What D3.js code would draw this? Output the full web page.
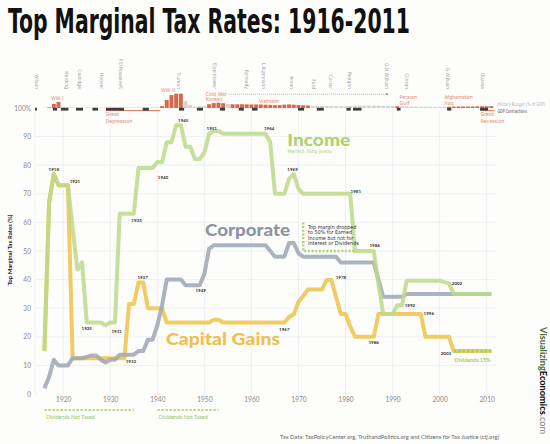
<!DOCTYPE html>
<html><head><meta charset="utf-8">
<script src="https://cdn.jsdelivr.net/npm/d3@7"></script>
<style>
body{margin:0;background:#fdfdfc;}
svg{display:block;}
.narrow{font-family:'Liberation Sans Narrow','DejaVu Sans Condensed',sans-serif;}
.lato{font-family:Lato,'Open Sans',sans-serif;}
</style></head><body>
<svg id="c" width="550" height="444"></svg>
<script>
// ---------------- DATA ----------------
const years = d3.range(1916, 2012);
const incomeRates = [15,67,77,73,73,73,58,43.5,46,25,25,25,25,24,25,25,63,63,63,63,79,79,79,79,81.1,81,88,88,94,94,86.45,86.45,82.13,82.13,84.36,91,92,92,
  91,91,91,91,91,91,91,91,91,91,88,70,70,70,75.25,77,71.75,
  70,70,70,70,70,70,70,70,70,70,70,50,50,50,50,50,38.5,28,28,28,31,31,
  39.6,39.6,39.6,39.6,39.6,39.6,39.6,39.6,39.1,38.6,35,35,35,35,35,35,35,35,35];
const corporateRates = [2,6,12,10,10,10,12.5,12.5,12.5,13,13.5,13.5,12,11,12,12,13.75,13.75,13.75,13.75,15,15,19,19,24,31,40,40,40,40,38,38,38,38,42,50.75,
  52,52,52,52,52,52,52,52,52,52,52,52,50,48,48,48,52.8,52.8,49.2,48,48,48,48,48,48,48,48,
  46,46,46,46,46,46,46,46,40,34,34,34,34,34,
  35,35,35,35,35,35,35,35,35,35,35,35,35,35,35,35,35,35,35];
const capitalGainsRates = [15,67,77,73,73,73,12.5,12.5,12.5,12.5,12.5,12.5,12.5,12.5,12.5,12.5,12.5,12.5,31.5,31.5,39,39,30,30,30,30,
  25,25,25,25,25,25,25,25,25,25,26,26,25,25,25,25,25,25,25,25,25,25,25,25,25,25,
  26.9,27.9,32.21,34.25,36.5,36.5,36.5,36.5,39.875,39.875,33.85,28,28,23.7,20,20,20,20,20,
  28,28,28,28,28,28,28,28,28,28,20,20,20,20,20,20,15,15,15,15,15,15,15,15,15];
const earnedYears = [1971, 1971, 1982];
const earnedRates = [60, 50, 50];
const dividendYears = [2003, 2011];
const dividendRates = [15, 15];
const dividendsUntaxed = [[1916, 1935], [1940, 1953]];

const xTicks = [1920,1930,1940,1950,1960,1970,1980,1990,2000,2010];
const yTicks = [0,10,20,30,40,50,60,70,80,90,100];

// military budget (% of GDP) by year, wartime years highlighted
const militaryPct = [0.5,1.5,11,16,3,2,1.5,1.2,1.2,1.2,1.2,1.2,1.2,1.2,1.3,1.5,1.7,1.6,1.5,1.5,1.6,1.5,1.6,1.7,2.2,
  5,21,34,37.6,37.6,18,8,3.5,4.8,5,10,13,14,12.7,10.5,
  9.7,9.8,9.9,9.7,9.3,9.4,9.2,8.6,8.3,7.4,7.7,8.8,9.4,8.7,8.1,7.3,6.7,
  5.8,5.5,5.5,5.2,4.9,4.7,4.6,4.9,5.1,5.7,6.1,5.9,6.1,6.2,6.1,5.8,5.6,5.2,4.6,4.8,4.4,4.0,3.7,3.5,3.3,3.1,3.0,3.0,3.0,
  3.3,3.7,3.9,4.0,3.9,4.0,4.3,4.6,4.7,4.6];
const warYears = [1917,1918,1919,1941,1942,1943,1944,1945,1951,1952,1953,1954,
  1956,1957,1958,1959,1960,1961,1962,1963,1964,1965,1966,1967,1968,1969,1970,1971,1972,
  1991,2002,2003,2004,2005,2006,2007,2008,2009,2010,2011];
const gdpContractions = [[1914,1914.4],[1917.8,1918.7],[1919.5,1921.1],[1922.7,1924.2],[1926.2,1927.4],[1929.1,1932.9],
  [1936.9,1938.2],[1944.6,1945.7],[1948.4,1949.7],[1953.3,1954.4],[1957.3,1958.4],[1960.1,1961.3],[1969.9,1971.2],
  [1973.9,1975.4],[1980.2,1981.1],[1981.6,1983.4],[1990.9,1991.7],[2001.6,2002.5],[2008.6,2010.3]];
const greatDepression = [1929, 1940.6];
const greatRecession = [2008.7, 2011.7];
const coldWarSpan = [1955, 1989];
const eventText = [["WW I"],["WW II"],["Korean"],["Vietnam"],["Persian","Gulf"],["Afghanistan","Iraq"]];
const eventYear = [1917.4, 1940.8, 1950.3, 1961.6, 1991.5, 2001];
const eventPeak = [16, 37.6, 14, 9.8, 4.6, 4.6];

const presidentNames = ["Wilson","Harding","Coolidge","Hoover","F.D.Roosevelt","Truman","Eisenhower","Kennedy","L.B.Johnson",
  "Nixon","Ford","Carter","Reagan","G.H.W.Bush","Clinton","G.W.Bush","Obama"];
const presidentYears = [1914.4,1920.7,1923.5,1928.2,1932.2,1944.6,1952.2,1959,1962.7,1968.6,1973.3,1976.9,1980.9,1988.8,1993,2001.7,2009.2];

// labelled points: [series, year]
const labelSeries = ["inc","inc","inc","inc","cg","inc","cg","inc","inc","inc","inc","inc","inc","inc","corp","cg","cg","cg","inc","cg","inc","cg"];
const labelYears  = [1918,1921,1925,1931,1933,1935,1937,1940,1945,1951,1963,1969,1981,1986,1949,1967,1977,1986,1992,1996,2002,2003];
const labelText   = ["1918","1921","1925","1931","1933","1935","1937","1940","1945","1951","1964","1969","1981","1986","1949","1967","1978","1986","1992","1996","2002","2003"];

// ---------------- LAYOUT ----------------
const labelOffsets = [[0,-3],[7,-2],[0,7.4],[1.7,10],[6.5,5],[2.8,7.8],[-0.6,-3.6],[5.7,16.5],[2.4,-3.6],[2.7,-3.8],[3.7,-3.8],[-1.2,-3],
  [5.6,-1.2],[1,-4.4],[1,7],[0,8],[9.5,-1.1],[0,7.5],[8,1.3],[8,1],[8,1.3],[-7.8,3.9]];

const svg = d3.select('#c');
const x = d3.scaleLinear().domain([1914, 2012.2]).range([35, 497]);
const y = d3.scaleLinear().domain([0, 100]).range([394, 108]);
const milH = d3.scaleLinear().domain([0, 40]).range([0, 15.2]);
const base = y(100);
const C = {inc:'#bcd98a', corp:'#a2a8b4', cg:'#f0c552', war:'#d7694b', warText:'#e3866a', grid:'#e8ecf0'};
const series = {
  inc: years.map((yr,i)=>[yr, incomeRates[i]]),
  corp: years.map((yr,i)=>[yr, corporateRates[i]]),
  cg: years.map((yr,i)=>[yr, capitalGainsRates[i]])
};
// fit a text horizontally to a target width by scaling
function fitText(sel, tx, ty, width, sy){
  const w = sel.node().getComputedTextLength();
  sel.attr('transform',`translate(${tx},${ty}) scale(${width/w},${sy||1})`);
}

// title
const title = svg.append('text').attr('class','narrow')
  .attr('font-size',29.5).attr('font-weight','bold').attr('fill','#111')
  .text('Top Marginal Tax Rates: 1916-2011');
fitText(title, 8, 33, 402, 1.13);

// grid
const grid = svg.append('g');
grid.selectAll('line.h').data(yTicks.filter(v=>v>0 && v<100)).join('line')
  .attr('x1',x.range()[0]).attr('x2',x.range()[1]).attr('y1',d=>y(d)).attr('y2',d=>y(d))
  .attr('stroke',C.grid).attr('stroke-width',0.8);
grid.selectAll('line.v').data([x.domain()[0]].concat(xTicks)).join('line')
  .attr('x1',d=>x(d)).attr('x2',d=>x(d)).attr('y1',base+3).attr('y2',y(0))
  .attr('stroke',C.grid).attr('stroke-width',0.8);

// axes
const yAxis = svg.append('g').attr('transform',`translate(${x.range()[0]},0)`)
  .call(d3.axisLeft(y).tickValues(yTicks).tickSize(0).tickPadding(4).tickFormat(d=>d===100?'100%':d));
const xAxis = svg.append('g').attr('transform',`translate(0,${y(0)})`)
  .call(d3.axisBottom(x).tickValues(xTicks).tickSize(0).tickPadding(3.5).tickFormat(d3.format('d')));
[yAxis,xAxis].forEach(a=>{a.select('.domain').remove();
  a.selectAll('text').attr('fill','#8a8a8a').attr('font-size',6.6).attr('class','lato');});

svg.append('text').attr('class','lato').attr('transform',`translate(12,250) rotate(-90)`)
  .attr('text-anchor','middle').attr('font-size',6).attr('font-weight','bold').attr('fill','#222')
  .text('Top Marginal Tax Rates (%)');

// ---------------- TOP STRIP ----------------
const strip = svg.append('g');
const milData = years.map((yr,i)=>({yr, v:militaryPct[i], war:warYears.includes(yr)}));
strip.selectAll('rect.mil').data(milData).join('rect')
  .attr('x',d=>x(d.yr-0.42)).attr('width',d=>x(d.yr+0.42)-x(d.yr-0.42))
  .attr('y',d=>base-milH(d.v)).attr('height',d=>milH(d.v))
  .attr('fill',d=>d.war?C.war:'#d3d3d3');
strip.append('line').attr('x1',x(greatDepression[0])).attr('x2',x(greatDepression[1]))
  .attr('y1',base+2.6).attr('y2',base+2.6).attr('stroke',C.war).attr('stroke-width',0.9);
strip.append('line').attr('x1',x(greatRecession[0])).attr('x2',x(greatRecession[1]))
  .attr('y1',base+2.6).attr('y2',base+2.6).attr('stroke',C.war).attr('stroke-width',0.9);
strip.selectAll('rect.gdp').data(gdpContractions).join('rect')
  .attr('x',d=>x(d[0])).attr('width',d=>Math.max(1,x(d[1])-x(d[0])))
  .attr('y',base-0.2).attr('height',2.8).attr('fill','#3d3d3d');

// event labels
eventText.forEach((lines,i)=>{
  const top = base - milH(eventPeak[i]) - 1.6;
  const t = strip.append('text').attr('class','narrow').attr('font-size',5.3).attr('fill',C.warText);
  lines.forEach((ln,j)=>{
    t.append('tspan').attr('x',x(eventYear[i])).attr('y',top-(lines.length-1-j)*5.6).text(ln);
  });
});
[[greatDepression[0],['Great','Depression']],[greatRecession[0],['Great','Recession']]].forEach(([yr,lines])=>{
  const t = strip.append('text').attr('class','narrow').attr('font-size',5.3).attr('fill',C.warText);
  lines.forEach((ln,j)=>t.append('tspan').attr('x',x(yr)).attr('y',base+8.4+j*6.8).text(ln));
});
// cold war
strip.append('text').attr('class','narrow').attr('font-size',5.3).attr('fill',C.warText)
  .attr('x',x(coldWarSpan[0])-1).attr('y',base-12).attr('text-anchor','end').text('Cold War');
svg.append('defs').append('marker').attr('id','arr').attr('viewBox','0 0 6 6').attr('refX',5).attr('refY',3)
  .attr('markerWidth',4).attr('markerHeight',4).attr('orient','auto')
  .append('path').attr('d','M0,0L6,3L0,6Z').attr('fill','#555');
strip.append('line').attr('x1',x(coldWarSpan[0])+1).attr('x2',x(coldWarSpan[1]))
  .attr('y1',base-13.8).attr('y2',base-13.8).attr('stroke','#777').attr('stroke-width',0.5)
  .attr('stroke-dasharray','1,1').attr('marker-end','url(#arr)');
// legend
const lg1 = strip.append('text').attr('class','narrow').attr('font-size',5).attr('fill','#b3b3b3')
  .text('Military Budget (% of GDP)');
fitText(lg1, x.range()[1]+0.5, base-2, 48);
const lg2 = strip.append('text').attr('class','narrow').attr('font-size',5).attr('fill','#444')
  .text('GDP Contractions');
fitText(lg2, x.range()[1]+0.5, base+4.5, 29.5);
// presidents
svg.selectAll('text.pres').data(presidentNames).join('text').attr('class','narrow')
  .attr('transform',(d,i)=>`translate(${x(presidentYears[i])-1.7},89) rotate(90)`)
  .attr('text-anchor','end').attr('font-size',5).attr('fill','#9d9d9d').text(d=>d);

// ---------------- SERIES ----------------
const line = d3.line().x(d=>x(d[0])).y(d=>y(d[1]));
const lines = svg.append('g').attr('fill','none').attr('stroke-linejoin','round');
lines.append('path').datum(series.cg).attr('d',line).attr('stroke',C.cg).attr('stroke-width',4).attr('stroke-opacity',0.9);
lines.append('path').datum(series.corp).attr('d',line).attr('stroke',C.corp).attr('stroke-width',4).attr('stroke-opacity',0.88);
lines.append('path').datum(series.inc).attr('d',line).attr('stroke',C.inc).attr('stroke-width',4).attr('stroke-opacity',0.85);
lines.append('path').datum(earnedYears.map((yr,i)=>[yr,earnedRates[i]])).attr('d',line)
  .attr('stroke','#aed374').attr('stroke-width',2.4).attr('stroke-dasharray','2,1.7');
lines.append('path').datum(dividendYears.map((yr,i)=>[yr,dividendRates[i]])).attr('d',line)
  .attr('stroke','#a8cf62').attr('stroke-width',3.4).attr('stroke-dasharray','2.6,1.8');

// dividends not taxed
dividendsUntaxed.forEach(p=>{
  svg.append('line').attr('x1',x(p[0])).attr('x2',x(p[1])).attr('y1',410).attr('y2',410)
    .attr('stroke','#a8cf6b').attr('stroke-width',1.4).attr('stroke-dasharray','2.6,1.4');
  svg.append('text').attr('class','lato').attr('x',x(p[0])+1.5).attr('y',419).attr('font-size',5.4)
    .attr('fill','#9cc65e').text('Dividends Not Taxed');
});

// point labels
labelYears.forEach((yr,i)=>{
  const s = series[labelSeries[i]].find(d=>d[0]===yr);
  svg.append('text').attr('class','lato').attr('x',x(yr)+labelOffsets[i][0]).attr('y',y(s[1])+labelOffsets[i][1])
    .attr('text-anchor','middle').attr('font-size',4.5).attr('font-weight','bold').attr('fill','#333').text(labelText[i]);
});

// series names
svg.append('text').attr('class','lato').attr('x',287.3).attr('y',146).attr('font-size',17.6).attr('font-weight','900')
  .attr('fill','#b0d072').attr('textLength',63).attr('lengthAdjust','spacingAndGlyphs').text('Income');
svg.append('text').attr('class','narrow').attr('x',287.5).attr('y',153.4).attr('font-size',4.8).attr('fill','#a6cc6a').text('Married, filing jointly');
svg.append('text').attr('class','lato').attr('x',205).attr('y',236).attr('font-size',17.6).attr('font-weight','900')
  .attr('fill','#8e95a2').attr('textLength',85).attr('lengthAdjust','spacingAndGlyphs').text('Corporate');
svg.append('text').attr('class','lato').attr('x',166).attr('y',344.5).attr('font-size',17.6).attr('font-weight','900')
  .attr('fill','#eec14c').attr('textLength',114).attr('lengthAdjust','spacingAndGlyphs').text('Capital Gains');
svg.append('text').attr('class','lato').attr('x',454.5).attr('y',362).attr('font-size',5.4).attr('font-weight','bold')
  .attr('fill','#a3cc62').text('Dividends 15%');

const note = svg.append('text').attr('class','narrow').attr('font-size',5.4).attr('fill','#333');
['Top margin dropped','to 50% for Earned','Income but not for','Interest or Dividends'].forEach((t,i)=>
  note.append('tspan').attr('x',308).attr('y',228.5+i*5.6).text(t));

// footer & brand
svg.append('text').attr('class','lato').attr('x',499).attr('y',438.5).attr('text-anchor','end').attr('font-size',5.5)
  .attr('fill','#666').attr('textLength',219).attr('lengthAdjust','spacingAndGlyphs')
  .text('Tax Data:  TaxPolicyCenter.org, TruthandPolitics.org and Citizens for Tax Justice (ctj.org)');
const brand = svg.append('text').attr('class','lato').attr('transform','translate(540,327) rotate(90)')
  .attr('font-size',10).attr('textLength',107).attr('lengthAdjust','spacingAndGlyphs');
brand.append('tspan').attr('font-weight','bold').attr('fill','#4a6b34').text('Visualizing');
brand.append('tspan').attr('font-weight','900').attr('fill','#111').text('Economics');
brand.append('tspan').attr('fill','#777').text('.com');
</script>
</body></html>
